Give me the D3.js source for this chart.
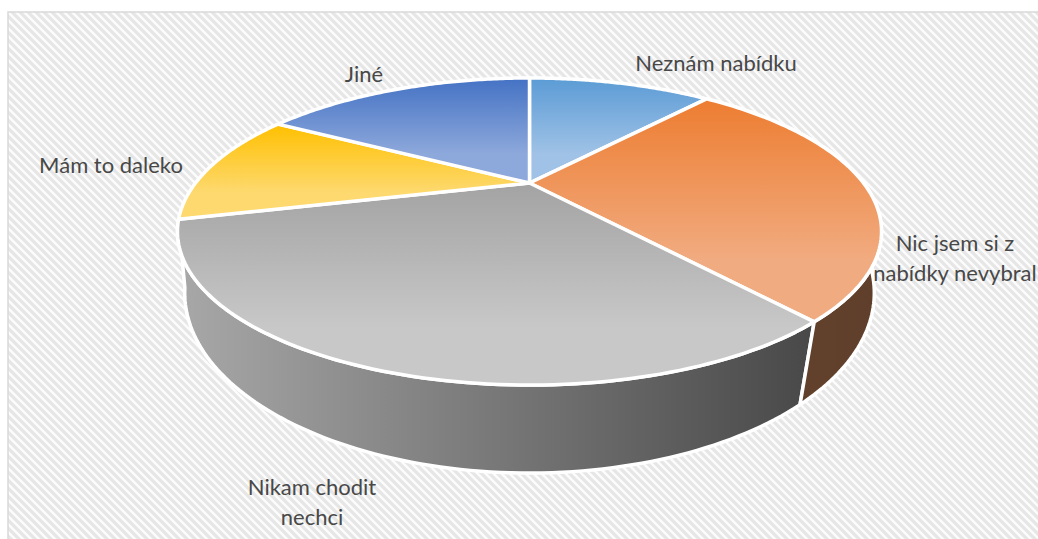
<!DOCTYPE html>
<html><head><meta charset="utf-8">
<script src="https://cdn.jsdelivr.net/npm/d3@7/dist/d3.min.js"></script>
<style>html,body{margin:0;padding:0;background:#fff;overflow:hidden}svg{display:block}text{font-family:Lato,"Open Sans",sans-serif;font-size:22px;fill:#484848;text-anchor:middle}</style>
</head><body><svg id="c" width="1038" height="539"></svg>
<script>
const categories = ["Neznám nabídku","Nic jsem si z nabídky nevybral","Nikam chodit nechci","Mám to daleko","Jiné"];
const values = [11.4,27.4,32.3,12.1,16.8];
const topColors = [["#5b9bd5","#9fc2e6"],["#ed7d31","#f1ab80"],["#a3a3a3","#c8c8c8"],["#ffc000","#fdd96f"],["#4472c4","#8da8db"]];
const sideColors = [["#5f3f2b","#5f3f2b"],["#6b4730","#5f3f2b"],["#a8a8a8","#484848"],["#a8a8a8","#a8a8a8"],["#a8a8a8","#a8a8a8"]];
const labelLines = [["Neznám nabídku"],["Nic jsem si z","nabídky nevybral"],["Nikam chodit","nechci"],["Mám to daleko"],["Jiné"]];

const W=1038,H=539, svg=d3.select("#c"), defs=svg.append("defs");
// perspective projection of a pie disc
const disc=(cx,cy,a,b,p)=>t=>{const u=Math.sin(t),v=-Math.cos(t),w=1/(1-p*v);return [cx+a*u*w,cy+b*v*w];};
const cx=529.5, cy=183;
const project=disc(cx,cy,334,138.2,0.316);
const lower=disc(cx,244.4,332,166.9,0.27);
const arcs=d3.pie().sort(null).value(d=>d)(values);
const samples=(s,e)=>d3.range(0,91).map(i=>s+(e-s)*i/90);
const line=d3.line().curve(d3.curveLinear);

// hatch background
const pat=defs.append("pattern").attr("id","hatch").attr("patternUnits","userSpaceOnUse").attr("width",8).attr("height",8);
pat.append("rect").attr("width",8).attr("height",8).attr("fill","#fcfcfc");
pat.append("path").attr("d","M-2,-2L10,10M-2,6L2,10M6,-2L10,2").attr("stroke","#e6e6e6").attr("stroke-width",3.2);
svg.append("rect").attr("x",8).attr("y",12).attr("width",W+10).attr("height",H+10)
  .attr("fill","url(#hatch)").attr("stroke","#d9d9d9").attr("stroke-width",1.5);

// gradients
values.forEach((_,i)=>{
  const pts=samples(arcs[i].startAngle,arcs[i].endAngle).map(project).concat([[cx,cy]]);
  const ys=d3.extent(pts,d=>d[1]);
  const g=defs.append("linearGradient").attr("id","top"+i).attr("gradientUnits","userSpaceOnUse")
    .attr("x1",0).attr("x2",0).attr("y1",ys[0]).attr("y2",ys[1]);
  g.append("stop").attr("offset",0).attr("stop-color",topColors[i][0]);
  g.append("stop").attr("offset",0.72).attr("stop-color",topColors[i][1]);
  g.append("stop").attr("offset",1).attr("stop-color",topColors[i][1]);
  const xs=d3.extent(pts,d=>d[0]);
  const s=defs.append("linearGradient").attr("id","side"+i).attr("gradientUnits","userSpaceOnUse")
    .attr("y1",0).attr("y2",0).attr("x1",xs[0]).attr("x2",xs[1]);
  s.append("stop").attr("offset",0).attr("stop-color",sideColors[i][0]);
  s.append("stop").attr("offset",1).attr("stop-color",sideColors[i][1]);
});

// side walls (front slices only)
[2,1].forEach(i=>{
  const angles=samples(arcs[i].startAngle,arcs[i].endAngle);
  const path=angles.map(project).concat(angles.slice().reverse().map(lower));
  svg.append("path").attr("d",line(path)+"Z")
    .attr("fill",`url(#side${i})`).attr("stroke","#fff").attr("stroke-width",3.5).attr("stroke-linejoin","round");
});
// top faces
arcs.forEach((d,i)=>{
  const rim=samples(d.startAngle,d.endAngle).map(project);
  svg.append("path").attr("d",line([[cx,cy]].concat(rim))+"Z")
    .attr("fill",`url(#top${i})`).attr("stroke","#fff").attr("stroke-width",3.5).attr("stroke-linejoin","round");
});

// labels
const labelAt=[[716,71],[955,251],[312,495],[111,173],[364,82]];
const lineGap=30;
labelLines.forEach((ls,i)=>{
  const t=svg.append("text").attr("x",labelAt[i][0]).attr("y",labelAt[i][1]);
  ls.forEach((l,j)=>t.append("tspan").attr("x",labelAt[i][0]).attr("y",labelAt[i][1]+j*lineGap).text(l));
});
</script></body></html>
